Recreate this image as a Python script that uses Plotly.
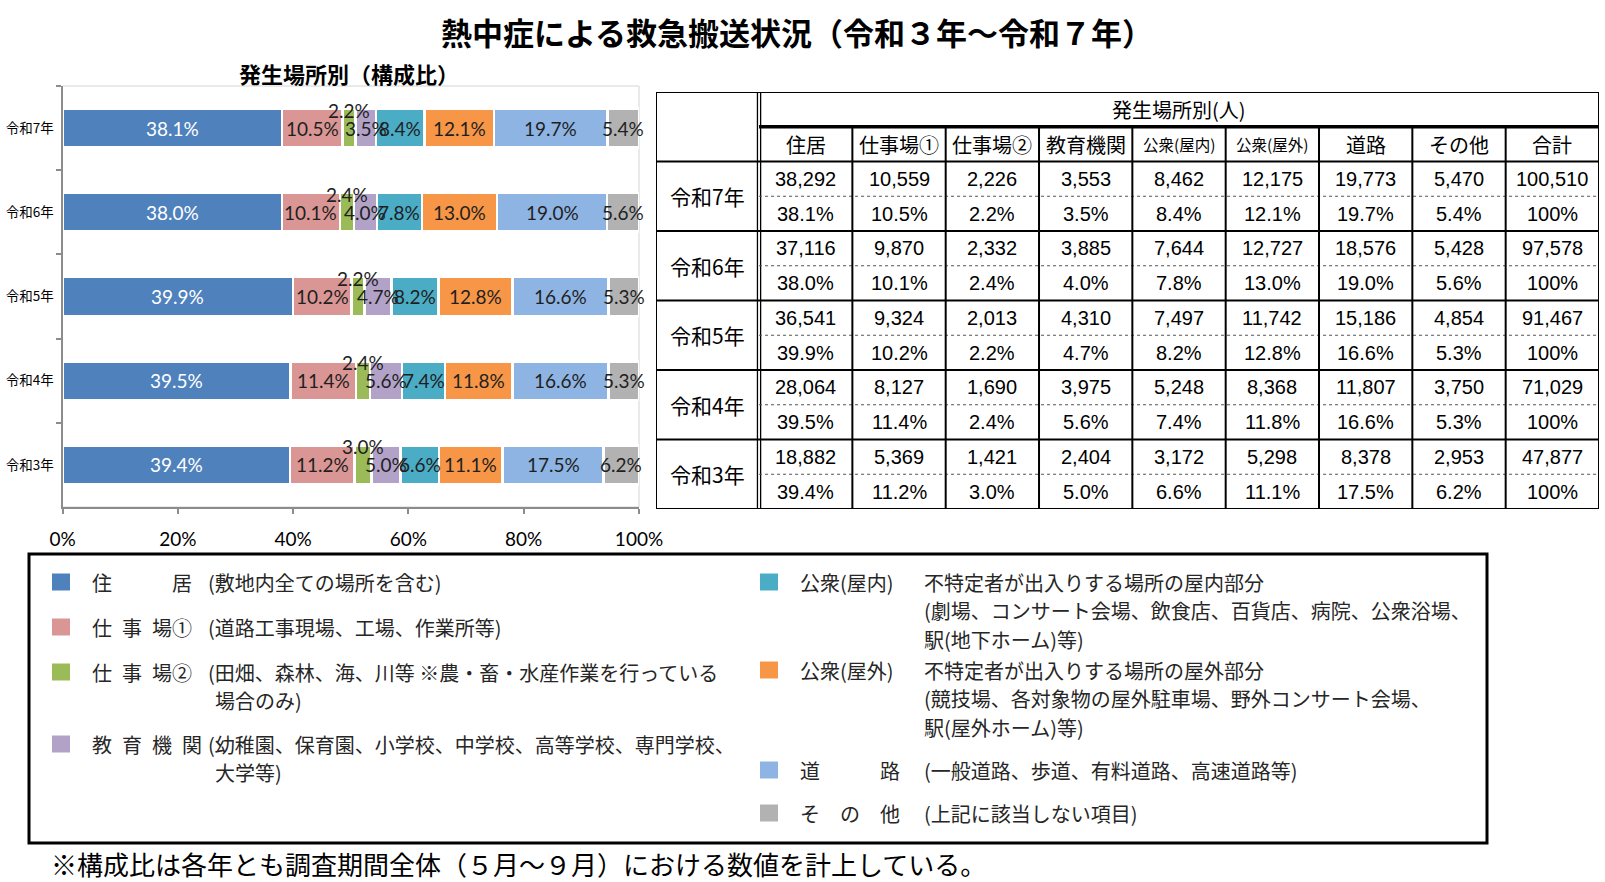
import plotly.graph_objects as go

W, H = 1605, 882

# ---------------- data ----------------
years = ['令和7年', '令和6年', '令和5年', '令和4年', '令和3年']
places = ['住居', '仕事場①', '仕事場②', '教育機関', '公衆(屋内)', '公衆(屋外)', '道路', 'その他']

cnt_jukyo = [38292, 37116, 36541, 28064, 18882]
cnt_shigoto1 = [10559, 9870, 9324, 8127, 5369]
cnt_shigoto2 = [2226, 2332, 2013, 1690, 1421]
cnt_kyoiku = [3553, 3885, 4310, 3975, 2404]
cnt_koshu_in = [8462, 7644, 7497, 5248, 3172]
cnt_koshu_out = [12175, 12727, 11742, 8368, 5298]
cnt_doro = [19773, 18576, 15186, 11807, 8378]
cnt_other = [5470, 5428, 4854, 3750, 2953]
cnt_total = [100510, 97578, 91467, 71029, 47877]

pct_jukyo = [38.1, 38.0, 39.9, 39.5, 39.4]
pct_shigoto1 = [10.5, 10.1, 10.2, 11.4, 11.2]
pct_shigoto2 = [2.2, 2.4, 2.2, 2.4, 3.0]
pct_kyoiku = [3.5, 4.0, 4.7, 5.6, 5.0]
pct_koshu_in = [8.4, 7.8, 8.2, 7.4, 6.6]
pct_koshu_out = [12.1, 13.0, 12.8, 11.8, 11.1]
pct_doro = [19.7, 19.0, 16.6, 16.6, 17.5]
pct_other = [5.4, 5.6, 5.3, 5.3, 6.2]

xtick_vals = [0, 20, 40, 60, 80, 100]
xtick_text = ['0%', '20%', '40%', '60%', '80%', '100%']

table_header = ['住居', '仕事場①', '仕事場②', '教育機関', '公衆(屋内)', '公衆(屋外)', '道路', 'その他', '合計']

legend_labels = ['住　　　居', '仕\u2002事\u2002場①', '仕\u2002事\u2002場②', '教\u2002育\u2002機\u2002関',
                 '公衆(屋内)', '公衆(屋外)', '道　　　路', 'そ　の　他']
legend_desc = [
    ['(敷地内全ての場所を含む)'],
    ['(道路工事現場、工場、作業所等)'],
    ['(田畑、森林、海、川等 ※農・畜・水産作業を行っている', '場合のみ)'],
    ['(幼稚園、保育園、小学校、中学校、高等学校、専門学校、', '大学等)'],
    ['不特定者が出入りする場所の屋内部分', '(劇場、コンサート会場、飲食店、百貨店、病院、公衆浴場、', '駅(地下ホーム)等)'],
    ['不特定者が出入りする場所の屋外部分', '(競技場、各対象物の屋外駐車場、野外コンサート会場、', '駅(屋外ホーム)等)'],
    ['(一般道路、歩道、有料道路、高速道路等)'],
    ['(上記に該当しない項目)'],
]

title_text = '熱中症による救急搬送状況（令和３年～令和７年）'
subtitle_text = '発生場所別（構成比）'
table_title = '発生場所別(人)'
footnote = '※構成比は各年とも調査期間全体（５月～９月）における数値を計上している。'

counts = [cnt_jukyo, cnt_shigoto1, cnt_shigoto2, cnt_kyoiku, cnt_koshu_in, cnt_koshu_out, cnt_doro, cnt_other]
pcts = [pct_jukyo, pct_shigoto1, pct_shigoto2, pct_kyoiku, pct_koshu_in, pct_koshu_out, pct_doro, pct_other]

# ---------------- style ----------------
colors = ['#4F81BD', '#DA9694', '#9BBB59', '#B3A2C7', '#4BACC6', '#F79646', '#8EB4E3', '#B2B2B2']
JP = 'Noto Sans CJK JP'
LAT = 'Lato'
NUM = 'Liberation Sans'


def px(x):
    return x / W


def py(y):
    return 1 - y / H


fig = go.Figure()

# ---------------- stacked bar chart ----------------
for i, name in enumerate(places):
    fig.add_trace(go.Bar(
        y=years, x=counts[i], orientation='h', name=name,
        marker=dict(color=colors[i], line=dict(color='white', width=2.5)),
        textposition='none', hoverinfo='skip', showlegend=False,
    ))

annotations = []
for j, yr in enumerate(years):
    cum = 0
    for i in range(len(places)):
        v = counts[i][j]
        mid = (cum + v / 2) / cnt_total[j] * 100
        cum += v
        annotations.append(dict(
            x=mid, y=yr, xref='x', yref='y', showarrow=False,
            xanchor='center', yanchor='middle',
            text=f'{pcts[i][j]:.1f}%',
            font=dict(family=LAT, size=19, color='white' if i == 0 else '#1f1f1f'),
            yshift=18 if i == 2 else 0,
        ))

# plot frame (light) around the bar plot area
shapes = [dict(type='rect', xref='x domain', yref='y domain', x0=0, x1=1, y0=0, y1=1,
               line=dict(color='#d4d4d4', width=1), layer='below')]

# ---------------- table (own axes) ----------------
fig.add_trace(go.Scatter(x=[None], y=[None], xaxis='x2', yaxis='y2', showlegend=False, hoverinfo='skip'))
LW = 1.104
NC = len(table_header)
XR = LW + NC
NR = 2 + 2 * len(years)


def cell(x, y, text, font):
    annotations.append(dict(x=x, y=y, xref='x2', yref='y2', text=text, showarrow=False,
                            xanchor='center', yanchor='middle', font=font))


cell(LW + NC / 2, 0.5, table_title, dict(family=JP, size=20, color='black'))
for k, h in enumerate(table_header):
    small = '(' in h
    cell(LW + k + 0.5, 1.5, h, dict(family=JP, size=15.5 if small else 20, color='black'))
row_counts = counts + [cnt_total]
for j, yr in enumerate(years):
    r = 2 + 2 * j
    cell(LW / 2, r + 1, yr, dict(family=JP, size=21, color='black'))
    for k in range(NC):
        cell(LW + k + 0.5, r + 0.5, f'{row_counts[k][j]:,}', dict(family=NUM, size=20, color='black'))
        ptxt = '100%' if k == NC - 1 else f'{pcts[k][j]:.1f}%'
        cell(LW + k + 0.5, r + 1.5, ptxt, dict(family=NUM, size=20, color='black'))


def tline(x0, y0, x1, y1, w=1.5, color='black', dash=None):
    d = dict(type='line', xref='x2', yref='y2', x0=x0, y0=y0, x1=x1, y1=y1,
             line=dict(color=color, width=w))
    if dash:
        d['line']['dash'] = dash
    shapes.append(d)


shapes.append(dict(type='rect', xref='x2', yref='y2', x0=0, x1=XR, y0=0, y1=NR,
                   line=dict(color='black', width=2)))
tline(LW - 0.017, 0, LW - 0.017, NR, 1.3)
tline(LW + 0.017, 0, LW + 0.017, NR, 1.3)
tline(LW, 1, XR, 1, 3.5)
tline(0, 2, XR, 2, 1.8)
for j in range(1, len(years)):
    tline(0, 2 + 2 * j, XR, 2 + 2 * j, 2)
for j in range(len(years)):
    tline(LW, 3 + 2 * j, XR, 3 + 2 * j, 1, '#555555', 'dot')
for k in range(1, NC):
    tline(LW + k, 1, LW + k, NR, 2)

# ---------------- legend box ----------------
shapes.append(dict(type='rect', xref='paper', yref='paper', x0=px(29), x1=px(1487), y0=py(843), y1=py(554),
                   line=dict(color='black', width=3)))
leg_pos = [  # (square x, label x, desc x, cont x, first-line y)
    (52, 90, 206, 213, 582), (52, 90, 206, 213, 627), (52, 90, 206, 213, 672), (52, 90, 206, 213, 744),
    (760, 798, 922, 922, 582), (760, 798, 922, 922, 670), (760, 798, 922, 922, 770), (760, 798, 922, 922, 813),
]
LS = 28.5
for i in range(len(places)):
    sx, lx, dx, cx, ly = leg_pos[i]
    shapes.append(dict(type='rect', xref='paper', yref='paper', x0=px(sx), x1=px(sx + 18),
                       y0=py(ly + 8.5), y1=py(ly - 8.5), fillcolor=colors[i], line=dict(width=0)))
    annotations.append(dict(x=px(lx), y=py(ly), xref='paper', yref='paper', xanchor='left', yanchor='middle',
                            text=legend_labels[i], showarrow=False,
                            font=dict(family=JP, size=20, color='#262626')))
    for m, line in enumerate(legend_desc[i]):
        annotations.append(dict(x=px(dx if m == 0 else cx), y=py(ly + m * LS), xref='paper', yref='paper',
                                xanchor='left', yanchor='middle', text=line, showarrow=False,
                                font=dict(family=JP, size=20, color='#262626')))

# ---------------- titles ----------------
annotations.append(dict(x=px(797), y=py(31), xref='paper', yref='paper', text=f'<b>{title_text}</b>',
                        xanchor='center', yanchor='middle',
                        showarrow=False, font=dict(family=JP, size=31, color='black')))
annotations.append(dict(x=px(349), y=py(73), xref='paper', yref='paper', text=f'<b>{subtitle_text}</b>',
                        xanchor='center', yanchor='middle',
                        showarrow=False, font=dict(family=JP, size=22, color='black')))
annotations.append(dict(x=px(49), y=py(863), xref='paper', yref='paper', xanchor='left', yanchor='middle',
                        text=footnote, showarrow=False, font=dict(family=JP, size=26, color='black')))

fig.update_layout(
    width=W, height=H, autosize=False,
    margin=dict(l=0, r=0, t=0, b=0, pad=0, autoexpand=False),
    paper_bgcolor='white', plot_bgcolor='white',
    barmode='stack', barnorm='percent', bargap=0.54,
    showlegend=False,
    xaxis=dict(domain=[px(62.5), px(639)], range=[0, 100], tickvals=xtick_vals, ticktext=xtick_text,
               showgrid=False, zeroline=False, showline=True, linecolor='#8c8c8c', linewidth=2,
               ticks='outside', ticklen=5, tickcolor='#8c8c8c', tickwidth=2, automargin=False,
               tickfont=dict(family=LAT, size=19, color='black'), ticklabelstandoff=9, fixedrange=True),
    yaxis=dict(domain=[py(507), py(86)], autorange='reversed', type='category',
               showgrid=False, zeroline=False, showline=True, linecolor='#8c8c8c', linewidth=2,
               ticks='outside', ticklen=5, tickcolor='#8c8c8c', tickwidth=2, tickson='boundaries',
               automargin=False,
               tickfont=dict(family=JP, size=13.5, color='black'), ticklabelstandoff=4, fixedrange=True),
    xaxis2=dict(domain=[px(656), px(1599)], range=[0, XR], visible=False, anchor='y2', fixedrange=True,
                automargin=False),
    yaxis2=dict(domain=[py(509), py(92)], range=[NR, 0], visible=False, anchor='x2', fixedrange=True,
                automargin=False),
    shapes=shapes, annotations=annotations,
)

fig.write_html('out.html')
